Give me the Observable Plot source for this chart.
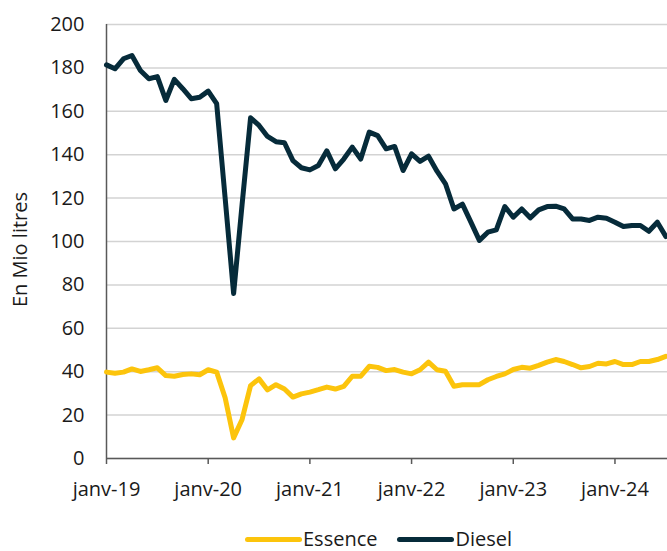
<!DOCTYPE html>
<html><head><meta charset="utf-8">
<script src="https://cdn.jsdelivr.net/npm/d3@7"></script>
<script src="https://cdn.jsdelivr.net/npm/@observablehq/plot@0.6"></script>
<style>
body{margin:0;background:#fff;font-family:"Open Sans",sans-serif;}
#wrap{position:relative;width:667px;height:551px;overflow:hidden;}
#legend{position:absolute;left:245px;top:528px;height:22px;line-height:22px;display:flex;align-items:center;font-size:20px;color:#1a1a1a;white-space:nowrap;}
.sw{display:inline-block;width:57px;height:5px;border-radius:3px;margin-right:1px;}
.item{display:flex;align-items:center;margin-right:20px;}
</style></head><body>
<div id="wrap"><div id="chart"></div><div id="legend"></div></div>
<script>
const seriesNames = ["Essence", "Diesel"];
const seriesColors = ["#FCC40C", "#062B3A"];
const tickLabels = ["janv-19", "janv-20", "janv-21", "janv-22", "janv-23", "janv-24"];
const yTicks = [0, 20, 40, 60, 80, 100, 120, 140, 160, 180, 200];
// monthly values Jan 2019 .. Jul 2024
const essence = [
  39.8, 39.3, 39.8, 41.3, 40.1, 40.9, 41.8, 38.2, 37.9, 38.7, 39.0, 38.6,
  40.9, 39.8, 28.0, 9.5, 18.0, 33.6, 36.7, 31.6, 34.0, 32.0, 28.3, 29.8,
  30.6, 31.7, 32.9, 32.0, 33.2, 37.9, 37.9, 42.5, 42.0, 40.5, 41.0, 39.8,
  39.0, 40.9, 44.4, 40.9, 40.2, 33.3, 34.0, 34.0, 34.0, 36.3, 37.8, 39.0,
  41.0, 42.0, 41.6, 42.9, 44.4, 45.6, 44.7, 43.3, 41.8, 42.4, 43.9, 43.6,
  44.7, 43.3, 43.3, 44.7, 44.7, 45.6, 47.1
];
const diesel = [
  181.4, 179.6, 184.2, 185.7, 178.8, 175.0, 176.0, 165.0, 174.7, 170.4, 165.8, 166.5,
  169.3, 163.5, 120.0, 76.0, 117.0, 157.0, 153.5, 148.4, 146.0, 145.5, 137.3, 134.0,
  133.0, 135.0, 141.8, 133.5, 138.0, 143.5, 138.0, 150.4, 148.8, 142.7, 143.8, 132.7,
  140.4, 136.9, 139.3, 132.4, 126.6, 115.0, 117.2, 108.9, 100.5, 104.3, 105.4, 116.1,
  111.2, 115.0, 110.9, 114.6, 116.1, 116.3, 115.0, 110.4, 110.4, 109.7, 111.2, 110.7,
  108.9, 106.9, 107.4, 107.4, 104.7, 108.9, 102.3
];
const yLabel = "En Mio litres";

const data = [];
essence.forEach((v, i) => data.push({m: i, v, s: "Essence"}));
diesel.forEach((v, i) => data.push({m: i, v, s: "Diesel"}));

const chart = Plot.plot({
  width: 667, height: 525,
  marginLeft: 106, marginRight: 0, marginTop: 24, marginBottom: 67,
  style: {fontFamily: "'Open Sans', sans-serif", fontSize: "20px", color: "#1a1a1a", background: "#fff"},
  x: {domain: [0, 66.2]},
  y: {domain: [0, 200]},
  color: {domain: seriesNames, range: seriesColors},
  marks: [
    Plot.gridY(yTicks, {stroke: "#d3d3d3", strokeOpacity: 1, strokeWidth: 1.5}),
    Plot.axisY(yTicks, {tickSize: 0, tickPadding: 22, label: null, fontSize: 20}),
    Plot.axisX(tickLabels.map((d, i) => i * 12), {tickSize: 6, tickPadding: 17, label: null, stroke: "#595959", strokeWidth: 1.5, tickFormat: d => tickLabels[d / 12], fontSize: 20}),
    Plot.ruleY([0], {stroke: "#595959", strokeWidth: 1.5}),
    Plot.ruleX([0], {stroke: "#595959", strokeWidth: 1.5}),
    Plot.lineY(data, {x: "m", y: "v", z: "s", stroke: "s", strokeWidth: 5, strokeLinejoin: "round"}),
    Plot.text([yLabel], {text: d => d, frameAnchor: "left", textAnchor: "middle", dx: -86, dy: 8, rotate: -90, fontSize: 20, fill: "#1a1a1a"})
  ]
});
document.getElementById("chart").appendChild(chart);

const legend = document.getElementById("legend");
seriesNames.forEach((n, i) => {
  const it = document.createElement("span");
  it.className = "item";
  const sw = document.createElement("span");
  sw.className = "sw";
  sw.style.background = seriesColors[i];
  it.appendChild(sw);
  it.appendChild(document.createTextNode(n));
  legend.appendChild(it);
});
</script>
</body></html>
